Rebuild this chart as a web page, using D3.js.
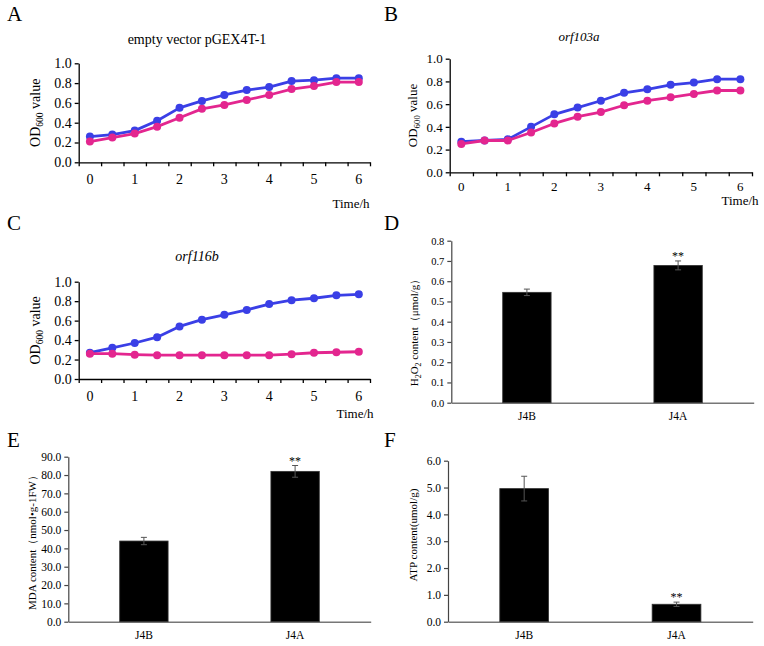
<!DOCTYPE html>
<html><head><meta charset="utf-8">
<script src="https://cdn.jsdelivr.net/npm/d3@7/dist/d3.min.js"></script>
<style>
body{margin:0;background:#fff}
svg{display:block}
text{font-family:"Liberation Serif","Times New Roman",serif;fill:#000}
</style>
</head><body>
<svg id="c" width="764" height="646"></svg>
<script>
// ---------- data ----------
const timePoints = ["0","0.5","1","1.5","2","2.5","3","3.5","4","4.5","5","5.5","6"];
const timeLabels = ["0","1","2","3","4","5","6"];
const odTicks = [0, 0.2, 0.4, 0.6, 0.8, 1.0];

const emptyBlue = [0.26,0.28,0.32,0.42,0.55,0.62,0.68,0.73,0.76,0.82,0.83,0.85,0.85];
const emptyPink = [0.21,0.25,0.29,0.36,0.45,0.54,0.58,0.63,0.68,0.74,0.77,0.81,0.81];
const orf103aBlue = [0.27,0.28,0.29,0.40,0.51,0.57,0.63,0.70,0.73,0.77,0.79,0.82,0.82];
const orf103aPink = [0.25,0.28,0.28,0.35,0.43,0.49,0.53,0.59,0.63,0.66,0.69,0.72,0.72];
const orf116bBlue = [0.27,0.32,0.37,0.43,0.54,0.61,0.66,0.71,0.77,0.81,0.83,0.86,0.87];
const orf116bPink = [0.26,0.26,0.25,0.245,0.245,0.245,0.245,0.245,0.245,0.255,0.27,0.275,0.28];

const groups = ["J4B","J4A"];
const h2o2 = [0.545, 0.678];
const h2o2Err = [0.016, 0.022];
const h2o2Ticks = [0,0.1,0.2,0.3,0.4,0.5,0.6,0.7,0.8];
const mda = [44.0, 82.0];
const mdaErr = [2.0, 3.2];
const mdaTicks = [0,10,20,30,40,50,60,70,80,90];
const atp = [4.96, 0.65];
const atpErr = [0.46, 0.08];
const atpTicks = [0,1,2,3,4,5,6];
const sigMarks = ["", "**"];

const BLUE = "#3a3fe6", PINK = "#e3268f";
const svg = d3.select("#c");

function panelLetter(t, x, y){
  svg.append("text").attr("x", x).attr("y", y).attr("font-size", 21).text(t);
}

function linePanel(o){
  const band = d3.scalePoint().domain(timePoints).range([o.x0, o.x1]).padding(0.5);
  const edge = d3.scaleLinear().domain([0, timePoints.length]).range([o.x0, o.x1]);
  const y = d3.scaleLinear().domain([0, 1]).range([o.yb, o.yt]);
  const g = svg.append("g");

  const ya = g.append("g").attr("transform", `translate(${o.x0},0)`)
    .call(d3.axisLeft(y).tickValues(odTicks).tickFormat(d3.format(".1f")).tickSize(4).tickSizeOuter(0).tickPadding(3));
  ya.selectAll("text").attr("font-size", o.fs).style("font-family", "Liberation Serif");
  ya.selectAll("path,line").attr("stroke", "#000").attr("stroke-width", 1.3);

  const xa = g.append("g").attr("transform", `translate(0,${o.yb})`)
    .call(d3.axisBottom(edge).tickValues(d3.range(0, timePoints.length + 1)).tickFormat("").tickSize(4).tickSizeOuter(0));
  xa.selectAll("path,line").attr("stroke", "#000").attr("stroke-width", 1.3);
  g.selectAll(".xl").data(timeLabels).join("text")
    .attr("x", d => band(d)).attr("y", o.yb + o.lblOff)
    .attr("text-anchor", "middle").attr("font-size", o.fs).text(d => d);

  const line = d3.line().x((d, i) => band(timePoints[i])).y(d => y(d));
  [[o.blue, BLUE], [o.pink, PINK]].forEach(([vals, col]) => {
    g.append("path").datum(vals).attr("d", line).attr("fill", "none")
      .attr("stroke", col).attr("stroke-width", 2.8).attr("stroke-linejoin", "round");
    g.selectAll(null).data(vals).join("circle")
      .attr("cx", (d, i) => band(timePoints[i])).attr("cy", d => y(d))
      .attr("r", 4).attr("fill", col);
  });

  g.append("text").attr("x", o.tx).attr("y", o.ty).attr("text-anchor", "middle")
    .attr("font-size", o.tfs).attr("font-style", o.italic ? "italic" : "normal").text(o.title);
  g.append("text").attr("x", o.timeX).attr("y", o.timeY).attr("text-anchor", "middle")
    .attr("font-size", 13).text("Time/h");
  const yt = g.append("text").attr("transform", `translate(${o.ylx},${(o.yb + o.yt) / 2}) rotate(-90)`)
    .attr("text-anchor", "middle").attr("font-size", o.fs);
  yt.append("tspan").text("OD");
  yt.append("tspan").attr("font-size", o.fs * 0.68).attr("dy", 3).text("600");
  yt.append("tspan").attr("dy", -3).text(" value");
}

function barPanel(o){
  const x = d3.scaleBand().domain(groups).range([o.x0, o.x1]).paddingInner(0.68).paddingOuter(0.34);
  const y = d3.scaleLinear().domain([0, o.ymax]).range([o.yb, o.yt]);
  const g = svg.append("g");
  const ya = g.append("g").attr("transform", `translate(${o.x0},0)`)
    .call(d3.axisLeft(y).tickValues(o.ticks).tickFormat(d3.format(".1f")).tickSize(4).tickSizeOuter(0).tickPadding(3));
  ya.selectAll("text").attr("font-size", o.fs).style("font-family", "Liberation Serif");
  ya.selectAll("path,line").attr("stroke", "#444").attr("stroke-width", 1.2);
  const xa = g.append("g").attr("transform", `translate(0,${o.yb})`)
    .call(d3.axisBottom(x).tickSize(0).tickPadding(9));
  xa.selectAll("text").attr("font-size", o.cfs).style("font-family", "Liberation Serif");
  xa.select("path").attr("stroke", "#777").attr("stroke-width", 1.4);

  g.selectAll(".bar").data(o.vals).join("rect")
    .attr("x", (d, i) => x(groups[i])).attr("width", x.bandwidth())
    .attr("y", d => y(d)).attr("height", d => o.yb - y(d))
    .attr("fill", "#000").attr("stroke", "#333").attr("stroke-width", 0.8);

  o.vals.forEach((v, i) => {
    const cx = x(groups[i]) + x.bandwidth() / 2;
    const e = o.errs[i];
    g.append("line").attr("x1", cx).attr("x2", cx).attr("y1", y(v - e)).attr("y2", y(v + e))
      .attr("stroke", "#555").attr("stroke-width", 1);
    [v - e, v + e].forEach(w => g.append("line").attr("x1", cx - 3).attr("x2", cx + 3)
      .attr("y1", y(w)).attr("y2", y(w)).attr("stroke", "#555").attr("stroke-width", 1));
    if (sigMarks[i]) g.append("text").attr("x", cx).attr("y", y(v + e) - 1)
      .attr("text-anchor", "middle").attr("font-size", 12).attr("fill", "#333").text(sigMarks[i]);
  });

  const yt = g.append("text").attr("transform", `translate(${o.ylx},${o.yly}) rotate(-90)`)
    .attr("text-anchor", "middle").attr("font-size", o.tfs);
  o.ytitle(yt);
}

// ---------- panels ----------
panelLetter("A", 7, 21);
linePanel({x0: 78.7, x1: 370, yb: 162.3, yt: 63.3, fs: 14, lblOff: 22, blue: emptyBlue, pink: emptyPink,
  title: "empty vector pGEX4T-1", italic: false, tx: 197, ty: 44, tfs: 14, timeX: 351, timeY: 208, ylx: 40});

panelLetter("B", 384, 21);
linePanel({x0: 449.7, x1: 752, yb: 172.3, yt: 58.7, fs: 13, lblOff: 19, blue: orf103aBlue, pink: orf103aPink,
  title: "orf103a", italic: true, tx: 579, ty: 41, tfs: 13, timeX: 740, timeY: 205, ylx: 417});

panelLetter("C", 7, 230);
linePanel({x0: 78.7, x1: 370, yb: 379, yt: 281.7, fs: 14, lblOff: 22, blue: orf116bBlue, pink: orf116bPink,
  title: "orf116b", italic: true, tx: 197, ty: 261, tfs: 14, timeX: 355, timeY: 418, ylx: 40});

panelLetter("D", 384, 230);
barPanel({x0: 451.3, x1: 753.7, yb: 402.7, yt: 240.7, ymax: 0.8, ticks: h2o2Ticks, fs: 10.5, cfs: 11.5, tfs: 11,
  vals: h2o2, errs: h2o2Err, ylx: 418, yly: 330,
  ytitle: t => { t.append("tspan").text("H"); t.append("tspan").attr("font-size", 8).attr("dy", 3).text("2");
    t.append("tspan").attr("dy", -3).text("O"); t.append("tspan").attr("font-size", 8).attr("dy", 3).text("2");
    t.append("tspan").attr("dy", -3).text(" content（μmol/g）"); }});

panelLetter("E", 7, 447);
barPanel({x0: 68.3, x1: 370.7, yb: 621.7, yt: 456.7, ymax: 90, ticks: mdaTicks, fs: 11.5, cfs: 11.5, tfs: 11,
  vals: mda, errs: mdaErr, ylx: 36, yly: 540,
  ytitle: t => t.text("MDA content（nmol•g-1FW）")});

panelLetter("F", 384, 447);
barPanel({x0: 448, x1: 752.7, yb: 621.7, yt: 460.7, ymax: 6, ticks: atpTicks, fs: 11.5, cfs: 11.5, tfs: 11,
  vals: atp, errs: atpErr, ylx: 417, yly: 535,
  ytitle: t => t.text("ATP content(umol/g)")});
</script>
</body></html>
